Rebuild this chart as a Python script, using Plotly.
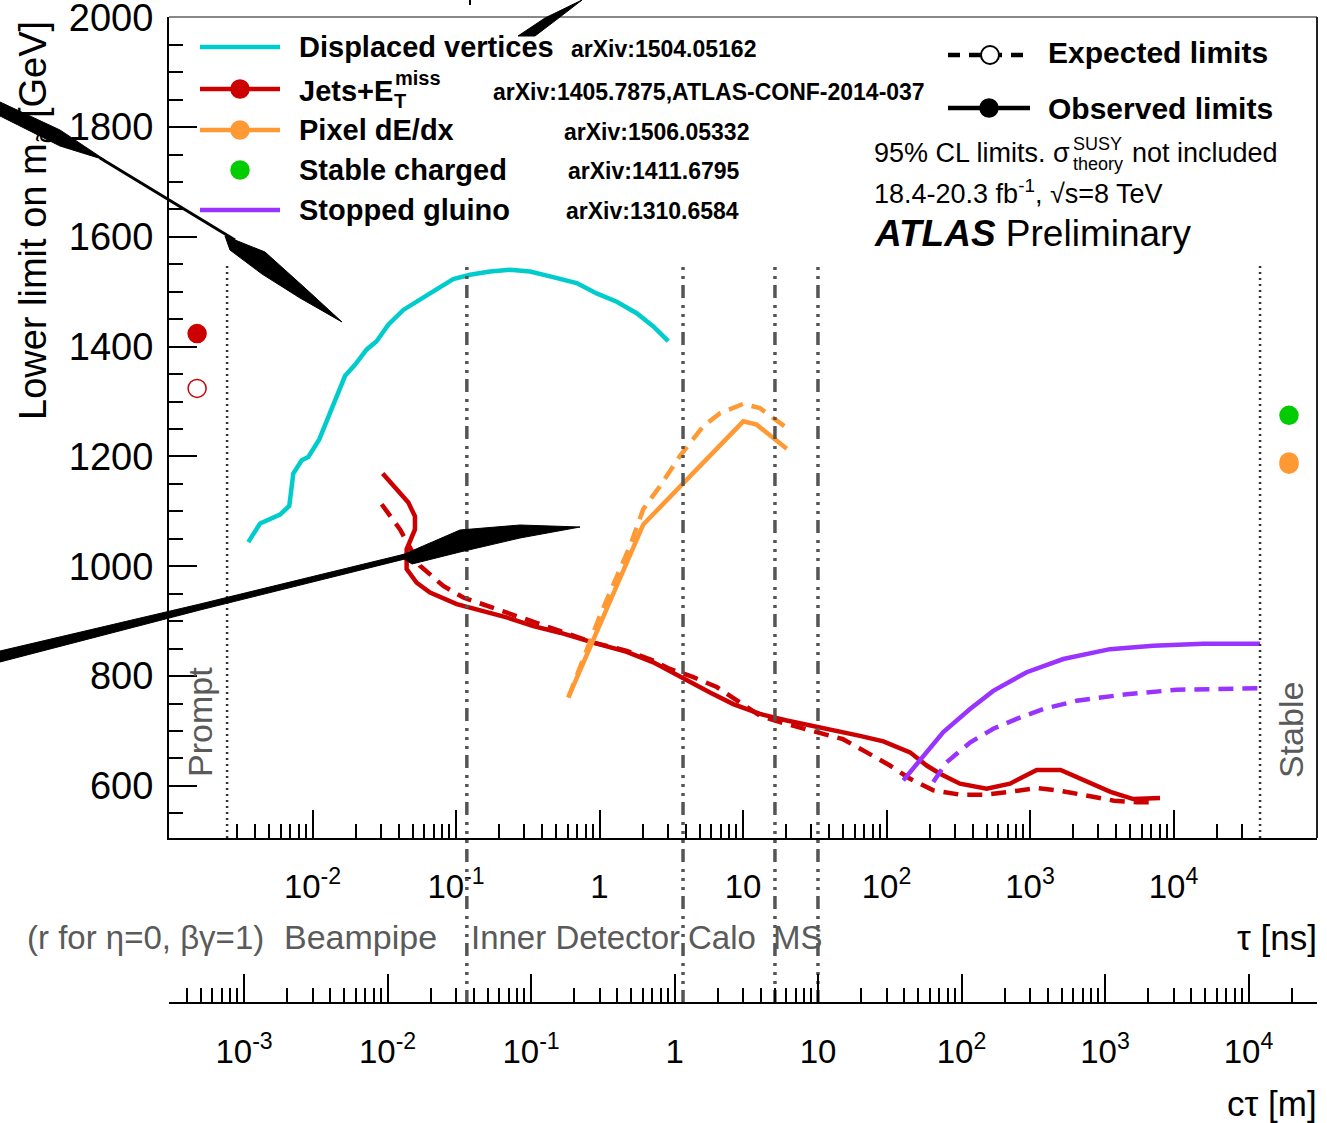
import plotly.graph_objects as go

W, H = 1327, 1123
FONT = "Liberation Sans, Arial, Helvetica, sans-serif"

# ---------------- data (tau in ns, mass limit in GeV) ----------------
dv_tau = [0.00357, 0.00431, 0.00594, 0.00689, 0.00735, 0.00841, 0.00935, 0.01114, 0.01687,
          0.01977, 0.02388, 0.02799, 0.03373, 0.04295, 0.06592, 0.09572, 0.1253, 0.1726,
          0.2377, 0.3281, 0.4519, 0.6934, 0.9550, 1.318, 1.816, 2.371, 3.013]
dv_obs = [1044, 1078, 1094, 1110, 1169, 1193, 1199, 1231, 1347, 1367, 1395, 1410, 1440, 1467,
          1497, 1523, 1531, 1537, 1540, 1537, 1528, 1516, 1497, 1482, 1461, 1437, 1410]

jets_obs_tau = [0.03083, 0.04656, 0.05176, 0.05176, 0.04529, 0.04529, 0.05321, 0.06592, 0.1012,
                0.2254, 0.3459, 0.5309, 0.9057, 1.549, 2.371, 3.639, 5.888, 8.551, 13.12, 20.18,
                34.43, 65.31, 95.06, 145.9, 190.5, 236.0, 325.1, 498.9, 726.1, 1114, 1633, 2371,
                3639, 5248, 8054]
jets_obs = [1169, 1116, 1091, 1067, 1031, 995, 970, 952, 931, 907, 891, 879, 861, 844, 825, 798,
            770, 749, 731, 719, 707, 691, 681, 661, 637, 622, 604, 595, 604, 629, 629, 610, 589,
            576, 578]
jets_exp_tau = [0.03034, 0.04074, 0.05610, 0.08166, 0.1125, 0.1637, 0.2377, 0.3459, 0.5309, 0.7311,
                0.9057, 1.549, 2.371, 3.097, 4.508, 6.561, 9.036, 13.12, 18.11, 26.30, 49.77,
                72.78, 105.7, 145.9, 211.8, 325.1, 498.9, 765.6, 1114, 1633, 2506, 3846, 5546, 7638]
jets_exp = [1113, 1067, 1001, 964, 943, 928, 913, 898, 882, 870, 861, 846, 828, 813, 798, 780, 755,
            728, 716, 705, 685, 661, 637, 613, 592, 584, 584, 590, 596, 591, 582, 573, 570, 570]

pix_obs_tau = [0.6067, 0.9057, 2.018, 10.05, 12.45, 20.18]
pix_obs = [761, 867, 1076, 1264, 1258, 1214]
pix_exp_tau = [0.6067, 1.007, 1.633, 2.018, 2.642, 3.639, 5.284, 6.918, 10.05, 13.12, 20.18]
pix_exp = [761, 910, 1037, 1104, 1146, 1201, 1255, 1279, 1296, 1288, 1252]

sg_obs_tau = [130.9, 200.9, 248.9, 381.9, 554.6, 948.4, 1706, 3606, 7228, 16140, 40090]
sg_obs = [610, 667, 698, 740, 773, 807, 831, 849, 855, 859, 859]
sg_exp_tau = [211.8, 262.4, 381.9, 554.6, 807.2, 1239, 2113, 4721, 10520, 23500, 40090]
sg_exp = [607, 643, 679, 704, 722, 740, 755, 767, 775, 778, 778]

# single-point limits (prompt and stable)
prompt_tau = [0.00157]
jets_prompt_obs = [1424]
jets_prompt_exp = [1324]
stable_tau = [63800]
stable_charged_obs = [1275]
pix_stable_obs = [1190]
pix_stable_exp = [1186]

# detector boundaries (ns)
prompt_line_tau = 0.00254
stable_line_tau = 40100
detector_tau = [0.119, 3.82, 16.7, 33.3]

tau_tickvals = [1e-2, 1e-1, 1, 10, 100, 1e3, 1e4]
tau_ticktext = ["10<sup>-2</sup>", "10<sup>-1</sup>", "1", "10", "10<sup>2</sup>", "10<sup>3</sup>", "10<sup>4</sup>"]
ctau_tickvals = [1e-3, 1e-2, 1e-1, 1, 10, 100, 1e3, 1e4]
ctau_ticktext = ["10<sup>-3</sup>", "10<sup>-2</sup>", "10<sup>-1</sup>", "1", "10", "10<sup>2</sup>", "10<sup>3</sup>", "10<sup>4</sup>"]

C_CYAN = "#00CCCC"
C_RED = "#CC0000"
C_ORANGE = "#FF9933"
C_GREEN = "#00CC00"
C_PURPLE = "#9933FF"
C_GRAY = "#555555"

def px(x):
    return x / W

def py(y):
    return 1 - y / H

X0, X1, YT, YB = 169, 1317, 17, 838
Y_CT = 1003      # c*tau axis line
Y_LINES_TOP = 263

minor_tau = [m * 10 ** k for k in range(-3, 5) for m in range(2, 10) if 3e-3 <= m * 10 ** k <= 3e4]
minor_ctau = [m * 10 ** k for k in range(-4, 5) for m in range(2, 10) if 3e-4 <= m * 10 ** k <= 2e4]

fig = go.Figure()

# boundary lines (drawn on a tall helper y axis so they reach the c*tau axis)
dashdot = "13px,6px,3px,6px,3px,6px,3px,7px"
for t in detector_tau:
    fig.add_trace(go.Scatter(x=[t, t], y=[0, 1], xaxis="x", yaxis="y4", mode="lines",
                             line=dict(color=C_GRAY, width=3.5, dash=dashdot), hoverinfo="skip"))
frac = (Y_CT - YB) / (Y_CT - Y_LINES_TOP)
for t in [prompt_line_tau, stable_line_tau]:
    fig.add_trace(go.Scatter(x=[t, t], y=[frac, 1], xaxis="x", yaxis="y4", mode="lines",
                             line=dict(color="#333333", width=2.5, dash="2px,4px"), hoverinfo="skip"))

DASH = "15px,9px"
def curve(x, y, color, dashed):
    fig.add_trace(go.Scatter(x=x, y=y, mode="lines", hoverinfo="skip",
                             line=dict(color=color, width=4.5, dash=DASH if dashed else "solid")))

curve(dv_tau, dv_obs, C_CYAN, False)
curve(jets_exp_tau, jets_exp, C_RED, True)
curve(jets_obs_tau, jets_obs, C_RED, False)
curve(pix_exp_tau, pix_exp, C_ORANGE, True)
curve(pix_obs_tau, pix_obs, C_ORANGE, False)
curve(sg_exp_tau, sg_exp, C_PURPLE, True)
curve(sg_obs_tau, sg_obs, C_PURPLE, False)

def pts(x, y, color, filled):
    fig.add_trace(go.Scatter(x=x, y=y, mode="markers", hoverinfo="skip", cliponaxis=False,
                             marker=dict(size=18, color=color if filled else "rgba(255,255,255,0)",
                                         line=dict(color=color, width=1.5))))

pts(prompt_tau, jets_prompt_obs, C_RED, True)
pts(prompt_tau, jets_prompt_exp, C_RED, False)
pts(stable_tau, stable_charged_obs, C_GREEN, True)
pts(stable_tau, pix_stable_exp, C_ORANGE, True)
pts(stable_tau, pix_stable_obs, C_ORANGE, True)

# dummy trace for the c*tau axis
fig.add_trace(go.Scatter(x=[1], y=[-5], xaxis="x2", yaxis="y4", mode="markers",
                         marker=dict(opacity=0), hoverinfo="skip"))

axis_common = dict(showgrid=False, zeroline=False, showline=True, linecolor="black", linewidth=2,
                   ticks="inside", ticklen=28, tickwidth=1.5, tickcolor="black",
                   ticklabeloverflow="allow", automargin=False)

fig.update_layout(
    width=W, height=H, margin=dict(l=0, r=0, t=0, b=0, autoexpand=False),
    paper_bgcolor="white", plot_bgcolor="rgba(0,0,0,0)", showlegend=False,
    font=dict(family=FONT, color="black"),
    xaxis=dict(type="log", range=[-3, 5], domain=[px(X0), px(X1)], anchor="y",
               tickvals=tau_tickvals, ticktext=tau_ticktext, ticklabelstandoff=18,
               tickfont=dict(size=33, family=FONT, color="black"),
               minor=dict(ticks="inside", ticklen=14, tickwidth=1.5, tickcolor="black",
                          tickvals=minor_tau, showgrid=False),
               **axis_common),
    yaxis=dict(range=[505, 2000.6], domain=[py(YB), py(YT)], anchor="x", dtick=200, tick0=0,
               ticklabelstandoff=6, tickfont=dict(size=38, family=FONT, color="black"),
               minor=dict(ticks="inside", ticklen=14, tickwidth=1.5, tickcolor="black",
                          dtick=50, tick0=0, showgrid=False),
               **axis_common),
    xaxis2=dict(type="log", range=[-3.523, 4.477], domain=[px(X0), px(X1)], anchor="free",
                position=py(Y_CT), side="bottom",
                tickvals=ctau_tickvals, ticktext=ctau_ticktext, ticklabelstandoff=19,
                tickfont=dict(size=33, family=FONT, color="black"),
                minor=dict(ticks="inside", ticklen=14, tickwidth=1.5, tickcolor="black",
                           tickvals=minor_ctau, showgrid=False),
                **axis_common),
    yaxis4=dict(domain=[py(Y_CT), py(Y_LINES_TOP)], range=[0, 1], anchor="x", visible=False,
                automargin=False),
)

shapes = []
annotations = []

def seg(x0, y0, x1, y1, color, width, dash="solid"):
    shapes.append(dict(type="line", xref="paper", yref="paper", x0=px(x0), y0=py(y0), x1=px(x1), y1=py(y1),
                       line=dict(color=color, width=width, dash=dash)))

def circ(cx, cy, r, color, filled=True, lw=1.5):
    shapes.append(dict(type="circle", xref="paper", yref="paper", x0=px(cx - r), x1=px(cx + r),
                       y0=py(cy + r), y1=py(cy - r),
                       fillcolor=color if filled else "white", line=dict(color=color, width=lw)))

def txt(x, y, s, size, color="black", xanchor="left", yanchor="middle", angle=0):
    annotations.append(dict(x=px(x), y=py(y), xref="paper", yref="paper", text=s, showarrow=False,
                            xanchor=xanchor, yanchor=yanchor, textangle=angle,
                            font=dict(size=size, family=FONT, color=color)))

# frame top and right
seg(X0, YT, X1, YT, "#888888", 2)
seg(X1, YT, X1, YB, "#222222", 2)

# legend
seg(200, 47, 280, 47, C_CYAN, 4.5)
seg(200, 89, 280, 89, C_RED, 4.5); circ(240, 89, 9, C_RED)
seg(200, 130, 280, 130, C_ORANGE, 4.5); circ(240, 130, 9, C_ORANGE)
circ(240, 170, 9, C_GREEN)
seg(200, 210, 280, 210, C_PURPLE, 4.5)
LF = 29
txt(297, 47, "<b>Displaced vertices</b>", LF)
txt(297, 91, "<b>Jets+E</b>", LF)
txt(393, 78, "<b>miss</b>", 20)
txt(392, 101, "<b>T</b>", 20)
txt(297, 130, "<b>Pixel dE/dx</b>", LF)
txt(297, 170, "<b>Stable charged</b>", LF)
txt(297, 210, "<b>Stopped gluino</b>", LF)
AF = 23
txt(569, 49, "<b>arXiv:1504.05162</b>", AF)
txt(491, 92, "<b>arXiv:1405.7875,ATLAS-CONF-2014-037</b>", AF)
txt(562, 132, "<b>arXiv:1506.05332</b>", AF)
txt(566, 171, "<b>arXiv:1411.6795</b>", AF)
txt(564, 211, "<b>arXiv:1310.6584</b>", AF)

seg(948, 55, 1032, 55, "black", 4.5, "12px,9px")
circ(990, 55, 9, "black", filled=False, lw=2)
seg(948, 108, 1030, 108, "black", 4.5)
circ(989, 108, 9, "black")
txt(1046, 53, "<b>Expected limits</b>", 30)
txt(1046, 109, "<b>Observed limits</b>", 30)

txt(872, 153, "95% CL limits. σ", 27)
txt(1071, 144, "SUSY", 18)
txt(1071, 164, "theory", 18)
txt(1130, 153, "not included", 27)
txt(872, 192, "18.4-20.3 fb<sup>-1</sup>, √s=8 TeV", 27)
txt(872, 234, "<b><i>ATLAS</i></b> Preliminary", 37)

# axis titles and region labels
txt(36, 221, "Lower limit on m<sub>g̃</sub> [GeV]", 38, xanchor="center", angle=-90)
txt(1319, 937, "τ [ns]", 35, xanchor="right")
txt(1319, 1103, "cτ [m]", 35, xanchor="right")
GR = "#5a5a5a"
txt(25, 937, "(r for η=0, βγ=1)", 33, GR)
txt(282, 937, "Beampipe", 34, GR)
txt(469, 937, "Inner Detector", 33, GR)
txt(686, 937, "Calo", 33, GR)
txt(771, 937, "MS", 33, GR)
txt(200, 722, "Prompt", 34, GR, xanchor="center", angle=-90)
txt(1291, 730, "Stable", 34, GR, xanchor="center", angle=-90)

# pen-stroke artefacts over the picture
def poly(points, color="black"):
    d = "M " + " L ".join(f"{px(x):.5f},{py(y):.5f}" for x, y in points) + " Z"
    shapes.append(dict(type="path", xref="paper", yref="paper", path=d, fillcolor=color,
                       line=dict(color=color, width=1)))

poly([(0, 102), (60, 130), (105, 160), (60, 146), (0, 116)])
seg(100, 158, 235, 240, "black", 3)
poly([(225, 236), (265, 252), (305, 288), (342, 322), (300, 298), (262, 274), (230, 250)])
poly([(0, 651), (200, 604), (405, 554), (405, 559), (200, 610), (0, 662)])
poly([(400, 556), (460, 530), (520, 525), (580, 527), (520, 538), (460, 552), (412, 564)])
poly([(518, 36), (545, 18), (582, 0), (560, 17), (535, 36)])
seg(470, 0, 470, 5, "black", 2)

fig.update_layout(shapes=shapes, annotations=annotations)
fig.write_html("out.html")
